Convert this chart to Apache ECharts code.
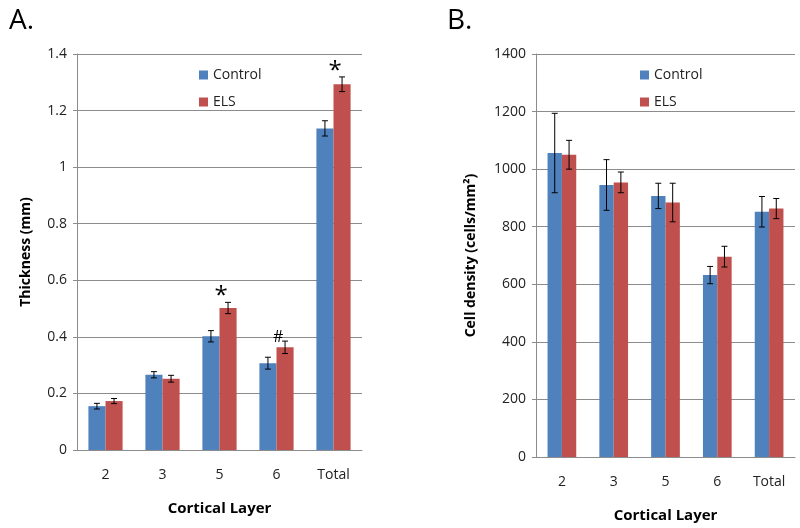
<!DOCTYPE html>
<html>
<head>
<meta charset="utf-8">
<script src="https://cdn.jsdelivr.net/npm/echarts@6/dist/echarts.min.js"></script>
<style>
  html, body { margin: 0; background: #fff; }
  #chart { width: 800px; height: 528px; }
</style>
</head>
<body>
<div id="chart"></div>
<script>
const layers = ["2", "3", "5", "6", "Total"];

// panel A: thickness (mm)
const thickControl = [0.155, 0.266, 0.402, 0.307, 1.137];
const thickControlErr = [0.010, 0.011, 0.020, 0.021, 0.027];
const thickEls = [0.173, 0.252, 0.502, 0.363, 1.293];
const thickElsErr = [0.009, 0.012, 0.020, 0.022, 0.026];
const thickMarks = ["", "", "*", "#", "*"];

// panel B: cell density (cells/mm2)
const densControl = [1056, 945, 907, 632, 852];
const densControlErr = [138, 88, 44, 30, 53];
const densEls = [1050, 954, 884, 696, 863];
const densElsErr = [50, 36, 67, 36, 35];

const BLUE = "#4f81bd";
const RED = "#c0504d";
const GRID_GRAY = "#8c8c8c";
const FONT = "'Open Sans', sans-serif";

const chart = echarts.init(document.getElementById("chart"));

// width of one bar as a fraction of the category band
const barFrac = [0.30, 0.277];

function errorSeries(gridIdx, means, errs, side, marks) {
  return {
    type: "custom",
    name: "err" + gridIdx + side,
    xAxisIndex: gridIdx,
    yAxisIndex: gridIdx,
    z: 5,
    silent: true,
    data: means.map((m, i) => [i, m - errs[i], m + errs[i]]),
    renderItem(params, api) {
      const band = api.size([1, 0])[0];
      const off = side * band * barFrac[gridIdx] / 2;
      const lo = api.coord([api.value(0), api.value(1)]);
      const hi = api.coord([api.value(0), api.value(2)]);
      const x = lo[0] + off;
      const cap = 3;
      const st = { stroke: "#000", lineWidth: 1 };
      const children = [
        { type: "line", shape: { x1: x, y1: lo[1], x2: x, y2: hi[1] }, style: st },
        { type: "line", shape: { x1: x - cap, y1: lo[1], x2: x + cap, y2: lo[1] }, style: st },
        { type: "line", shape: { x1: x - cap, y1: hi[1], x2: x + cap, y2: hi[1] }, style: st }
      ];
      const mark = marks ? marks[params.dataIndex] : "";
      if (mark) {
        const big = mark === "*";
        children.push({
          type: "text",
          style: {
            text: mark,
            x: x - 7,
            y: hi[1] + (big ? 6 : 4),
            align: "center",
            verticalAlign: "bottom",
            font: (big ? "24px " : "16px ") + FONT,
            fill: "#000"
          }
        });
      }
      return { type: "group", children };
    }
  };
}

function yAxis(gridIdx, max, interval, name, gap) {
  return {
    type: "value",
    gridIndex: gridIdx,
    min: 0,
    max: max,
    interval: interval,
    name: name,
    nameLocation: "middle",
    nameGap: gap,
    nameTextStyle: { fontFamily: FONT, fontSize: 14, fontWeight: "bold", color: "#000" },
    axisLine: { show: true, lineStyle: { color: GRID_GRAY } },
    axisTick: { show: true, length: 4, lineStyle: { color: GRID_GRAY } },
    axisLabel: {
      fontFamily: FONT, fontSize: 14, color: "#222", margin: 10,
      formatter: (v) => String(Math.round(v * 10) / 10)
    },
    splitLine: { lineStyle: { color: GRID_GRAY, width: 1 } }
  };
}

function xAxis(gridIdx) {
  return {
    type: "category",
    gridIndex: gridIdx,
    data: layers,
    name: "Cortical Layer",
    nameLocation: "middle",
    nameGap: 51,
    nameTextStyle: { fontFamily: FONT, fontSize: 15, fontWeight: "bold", color: "#000" },
    axisLine: { lineStyle: { color: GRID_GRAY } },
    axisTick: { length: 5, lineStyle: { color: GRID_GRAY } },
    axisLabel: { fontFamily: FONT, fontSize: 14, color: "#222", margin: 18 }
  };
}

function legend(left) {
  return {
    data: ["Control", "ELS"],
    orient: "vertical",
    left: left,
    top: 62,
    icon: "rect",
    itemWidth: 9,
    itemHeight: 9,
    itemGap: 11,
    textStyle: { fontFamily: FONT, fontSize: 14, color: "#222", lineHeight: 16 },
    selectedMode: false
  };
}

chart.setOption({
  animation: false,
  backgroundColor: "#fff",
  title: [
    { text: "A.", left: 4, top: 2, textStyle: { fontFamily: FONT, fontSize: 28, fontWeight: "normal", color: "#000" } },
    { text: "B.", left: 442, top: 2, textStyle: { fontFamily: FONT, fontSize: 28, fontWeight: "normal", color: "#000" } }
  ],
  legend: [legend(194), legend(635)],
  grid: [
    { left: 77, top: 54, width: 285, height: 396 },
    { left: 536, top: 54, width: 259, height: 404 }
  ],
  xAxis: [xAxis(0), xAxis(1)],
  yAxis: [
    yAxis(0, 1.4, 0.2, "Thickness (mm)", 44),
    yAxis(1, 1400, 200, "Cell density (cells/mm²)", 58)
  ],
  series: [
    { type: "bar", name: "Control", xAxisIndex: 0, yAxisIndex: 0, data: thickControl,
      itemStyle: { color: BLUE }, barGap: "0%", barCategoryGap: "40%" },
    { type: "bar", name: "ELS", xAxisIndex: 0, yAxisIndex: 0, data: thickEls,
      itemStyle: { color: RED }, barGap: "0%", barCategoryGap: "40%" },
    { type: "bar", name: "Control", xAxisIndex: 1, yAxisIndex: 1, data: densControl,
      itemStyle: { color: BLUE }, barGap: "0%", barCategoryGap: "44.6%" },
    { type: "bar", name: "ELS", xAxisIndex: 1, yAxisIndex: 1, data: densEls,
      itemStyle: { color: RED }, barGap: "0%", barCategoryGap: "44.6%" },
    errorSeries(0, thickControl, thickControlErr, -1, null),
    errorSeries(0, thickEls, thickElsErr, 1, thickMarks),
    errorSeries(1, densControl, densControlErr, -1, null),
    errorSeries(1, densEls, densElsErr, 1, null)
  ]
});
</script>
</body>
</html>
